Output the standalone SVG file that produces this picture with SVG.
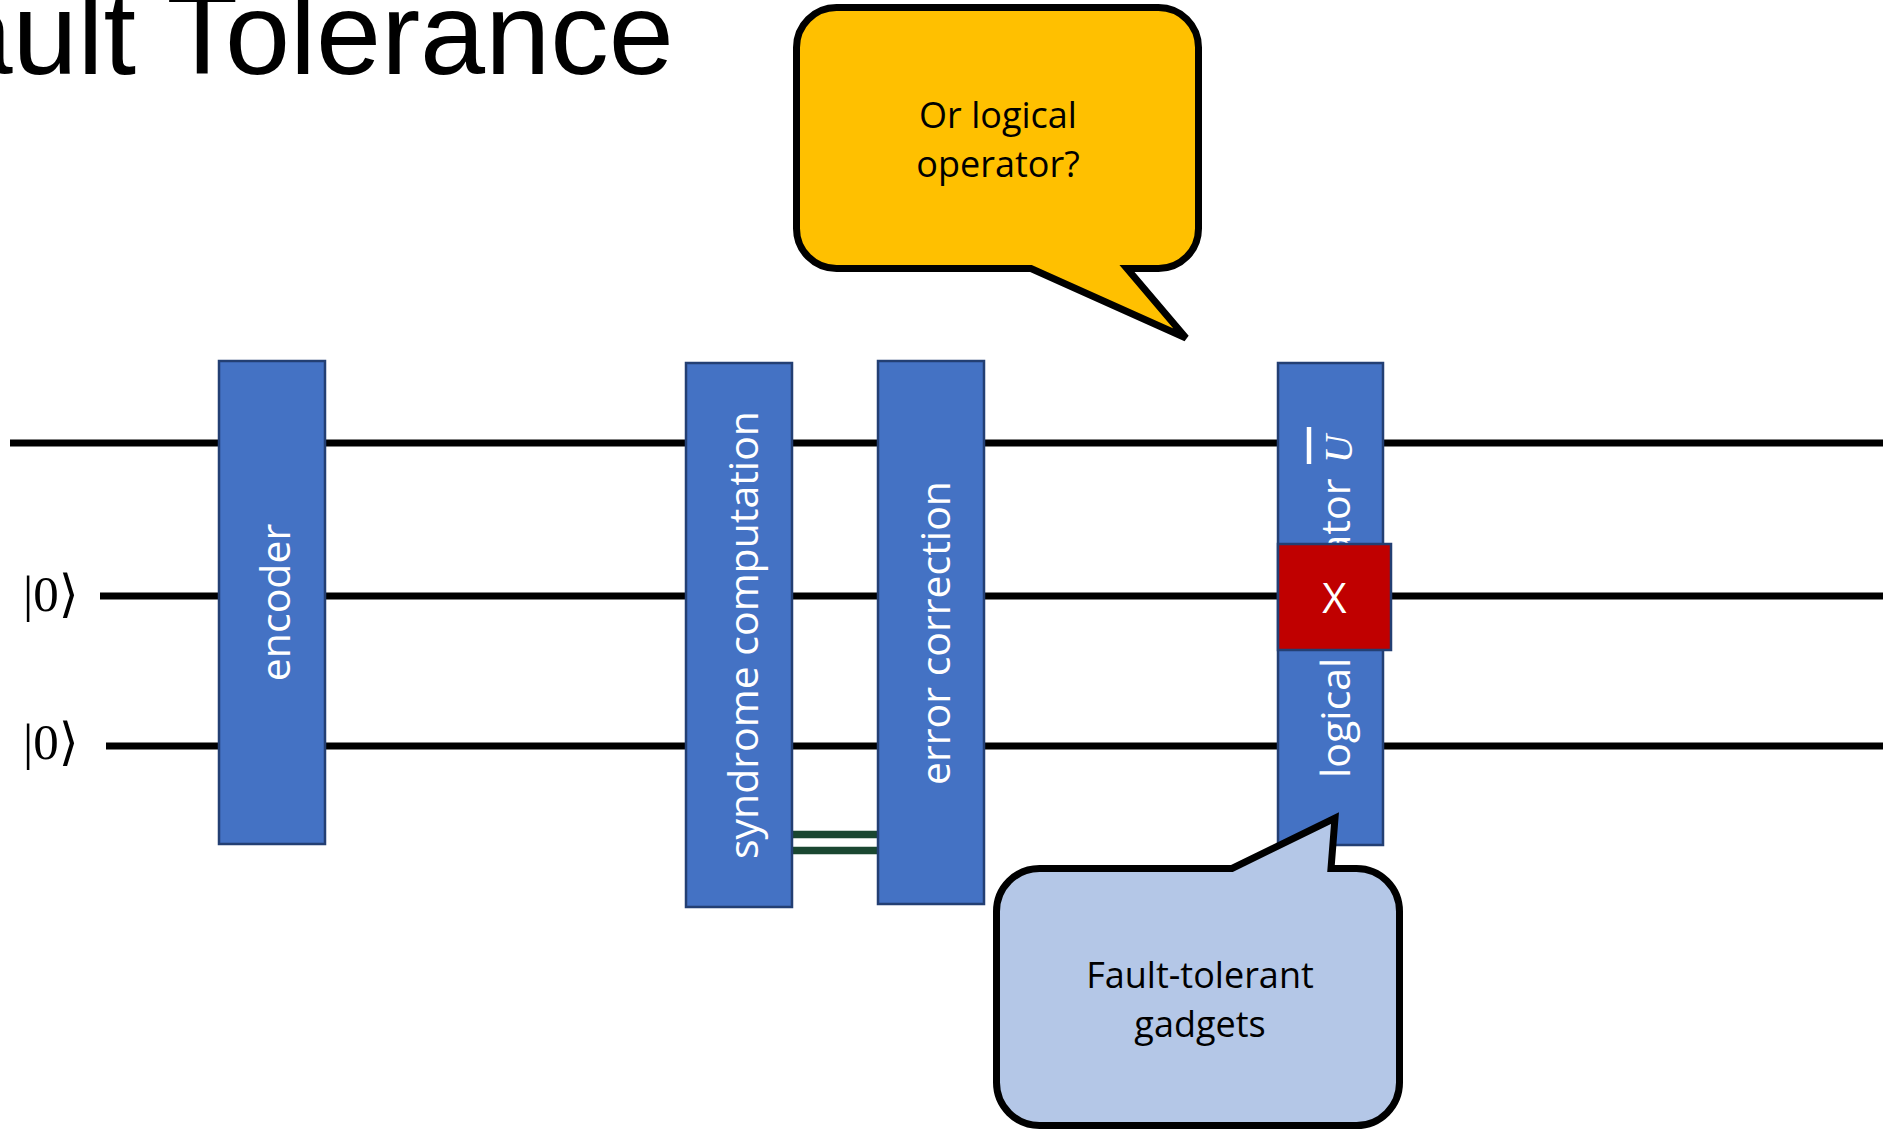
<svg xmlns="http://www.w3.org/2000/svg" width="1883" height="1131" viewBox="0 0 1883 1131">
  <style>
    .title { font-family: "Liberation Sans", Arial, sans-serif; font-size: 117px; fill: #000; }
    .wire { stroke: #000; stroke-width: 7; fill: none; }
    .cwire { stroke: #1A4731; stroke-width: 7.5; fill: none; }
    .gate { fill: #4472C4; stroke: #233F73; stroke-width: 2.5; }
    .err { fill: #C00000; stroke: #233F73; stroke-width: 2.5; }
    .glabel { font-family: "Open Sans", "Noto Sans", sans-serif; font-size: 41px; fill: #fff; }
    .ket { font-family: "Liberation Serif", "DejaVu Serif", serif; font-size: 51px; fill: #000; }
    .callout { stroke: #000; stroke-width: 7; stroke-linejoin: miter; }
    .ctext { font-family: "Open Sans", "Noto Sans", sans-serif; font-size: 36px; fill: #000; text-anchor: middle; }
  </style>

  <rect width="1883" height="1131" fill="#fff"/>

  <!-- slide title, running off the left edge -->
  <text class="title" x="-124" y="74">Fault Tolerance</text>

  <!-- input state labels -->
  <g id="ket1"><text class="ket" x="23" y="611">|0⟩</text></g>
  <g id="ket2"><text class="ket" x="23" y="759">|0⟩</text></g>

  <!-- qubit wires and the classical syndrome wire -->
  <g id="wires">
    <line class="wire" x1="10" y1="443" x2="1883" y2="443"/>
    <line class="wire" x1="100" y1="596" x2="1883" y2="596"/>
    <line class="wire" x1="106" y1="746" x2="1883" y2="746"/>
    <line class="cwire" x1="792" y1="834.5" x2="878" y2="834.5"/>
    <line class="cwire" x1="792" y1="850.5" x2="878" y2="850.5"/>
  </g>

  <g id="encoder">
    <rect class="gate" x="219" y="361" width="106" height="483"/>
    <text class="glabel" transform="translate(271 602.5) rotate(-90)" x="0" y="19" text-anchor="middle">encoder</text>
  </g>

  <g id="syndrome">
    <rect class="gate" x="686" y="363" width="106" height="544"/>
    <text class="glabel" transform="translate(739 635) rotate(-90)" x="0" y="19" text-anchor="middle">syndrome computation</text>
  </g>

  <g id="correction">
    <rect class="gate" x="878" y="361" width="106" height="543"/>
    <text class="glabel" transform="translate(931 633) rotate(-90)" x="0" y="19" text-anchor="middle">error correction</text>
  </g>

  <g id="logical-op">
    <rect class="gate" x="1278" y="363" width="105" height="482"/>
    <text class="glabel" transform="translate(1350 778) rotate(-90)" x="0" y="0">logical operator</text>
    <text transform="translate(1352 463) rotate(-90)" x="0" y="0" font-family="'Liberation Serif', serif" font-style="italic" font-size="39" fill="#fff">U</text>
    <line x1="1309" y1="427" x2="1309" y2="464" stroke="#fff" stroke-width="4.5"/>
  </g>

  <g id="x-error">
    <rect class="err" x="1278" y="544" width="113" height="106"/>
    <text x="1334.5" y="613" font-family="'Open Sans', sans-serif" font-size="42" fill="#fff" text-anchor="middle">X</text>
  </g>

  <g id="callout-operator">
    <path class="callout" fill="#FFC000" d="M 836.5 7.5 H 1158.5 A 40 40 0 0 1 1198.5 47.5 V 228.5 A 40 40 0 0 1 1158.5 268.5 H 1127 L 1186 338 L 1031 268.5 H 836.5 A 40 40 0 0 1 796.5 228.5 V 47.5 A 40 40 0 0 1 836.5 7.5 Z"/>
    <text class="ctext" x="998" y="128">Or logical</text>
    <text class="ctext" x="998" y="177">operator?</text>
  </g>

  <g id="callout-gadgets">
    <path class="callout" fill="#B4C7E7" d="M 1039.5 868.5 H 1232 L 1335 818 L 1331 868.5 H 1356.5 A 43 43 0 0 1 1399.5 911.5 V 1082.5 A 43 43 0 0 1 1356.5 1125.5 H 1039.5 A 43 43 0 0 1 996.5 1082.5 V 911.5 A 43 43 0 0 1 1039.5 868.5 Z"/>
    <text class="ctext" x="1200" y="988">Fault-tolerant</text>
    <text class="ctext" x="1200" y="1037">gadgets</text>
  </g>
</svg>
